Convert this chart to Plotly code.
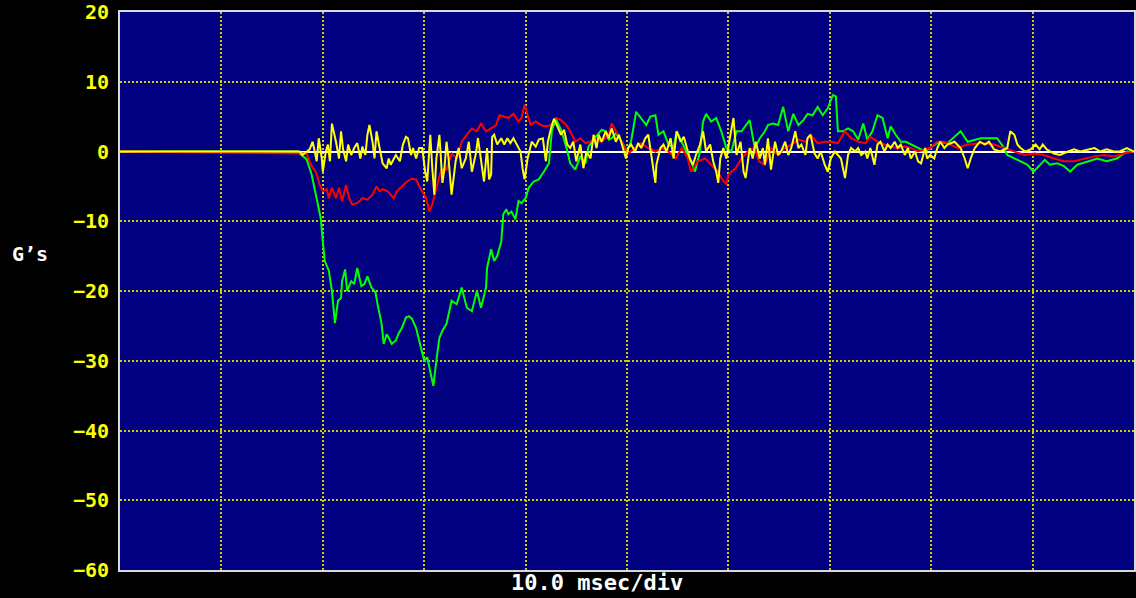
import plotly.graph_objects as go

# ---- data (time in ms, acceleration in G) ----
green_t = [0, 17.5, 17.7, 18.4, 18.9, 19.2, 19.5, 19.8, 20.0, 20.2, 20.6, 20.9, 21.2, 21.5, 21.8, 21.9,
           22.2, 22.4, 22.8, 23.1, 23.4, 23.8, 24.1, 24.4, 24.8, 25.2, 25.4, 25.8, 26.0, 26.3, 26.5, 26.8,
           27.2, 27.5, 27.8, 28.2, 28.5, 28.8, 29.2, 29.5, 29.8, 30.0, 30.3, 30.7, 30.9, 31.2, 31.5, 31.8,
           32.2, 32.7, 33.2, 33.7, 34.2, 34.7, 35.2, 35.6, 36.1, 36.2, 36.6, 36.9, 37.2, 37.6, 37.8, 38.1,
           38.3, 38.6, 39.0, 39.3, 39.6, 40.0, 40.3, 40.8, 41.3, 41.8, 42.3, 42.6, 43.0, 43.5, 44.0, 44.4,
           44.9, 45.4, 45.9, 46.2, 46.9, 47.5, 47.9, 48.2, 48.5, 48.9, 49.5, 50.0, 50.4, 50.9, 51.4, 51.9,
           52.3, 52.8, 53.1, 53.6, 54.1, 54.6, 54.9, 55.4, 55.9, 56.3, 56.7, 57.2, 57.5, 57.8, 58.3, 58.8,
           59.3, 59.8, 60.3, 60.8, 61.3, 61.8, 62.1, 62.6, 63.1, 63.6, 63.9, 64.4, 64.9, 65.4, 65.9, 66.4,
           66.9, 67.4, 67.8, 68.3, 68.8, 69.3, 69.8, 70.3, 70.6, 70.8, 71.3, 71.8, 72.3, 72.8, 73.3, 73.7,
           74.2, 74.7, 75.2, 75.7, 76.0, 76.5, 77.0, 77.5, 78.0, 78.7, 79.4, 79.9, 80.8, 81.6, 82.9, 83.6,
           84.9, 86.5, 87.2, 87.5, 88.2, 88.8, 89.5, 90.1, 90.7, 91.2, 91.7, 92.4, 93.1, 93.7, 94.4, 95.4,
           96.4, 97.3, 98.3, 99.3, 100]
green_g = [0, 0, -0.3, -1.1, -3.3, -5.3, -7.1, -9.6, -12.9, -15.7, -17.1, -20, -24.6, -21.4, -21, -18.6,
           -16.9, -20, -18.6, -19, -16.7, -19.3, -19, -17.9, -19.5, -20.2, -21.9, -24.7, -27.6, -26.2, -26.7, -27.6,
           -27.1, -26, -25.3, -23.8, -23.6, -24, -25.3, -27.1, -29, -30, -29.5, -32.4, -33.6, -30, -26.7, -25.7,
           -24.7, -21.4, -21.9, -19.5, -22.4, -22.9, -20, -22.4, -19.5, -16.7, -14, -15.7, -15, -12.9, -9, -8.3,
           -9, -8.6, -9.7, -7.1, -7.4, -6.7, -5.2, -4.3, -4, -2.9, -1.7, 3.1, 4.6, 3.1, 0.7, -1.7,
           -2.6, -0.7, -1.7, 0.7, 2.1, 3.1, 2.9, 1.7, 1.9, 2.6, 1.4, 0, 1.4, 5.7, 4.8, 3.8,
           5, 5.2, 2.4, 2.9, 1, 0.5, 2.9, 1.4, 0, -1.4, -2.9, 0, 4.3, 5.4, 4.3, 4.8,
           2.9, 0.5, 0, 2.9, 2.9, 3.8, 4.5, 0.5, 1.9, 2.9, 3.8, 4, 3.8, 6.4, 2.9, 5.4,
           3.8, 4.5, 5.4, 5.2, 6.4, 5.2, 6.2, 8.1, 7.9, 2.9, 2.9, 3.3, 2.9, 1.7, 4, 1.7,
           2.9, 5.2, 4.8, 1.9, 3.6, 2.4, 1.4, 1.4, 1, 0.5, 0, 0.5, 1.4, 1.2, 2.9, 1.4,
           1.9, 1.9, 0.5, -0.5, -1, -1.4, -1.9, -2.9, -1.9, -1.2, -1.9, -1.7, -2.1, -2.9, -1.9, -1.4,
           -1, -1.4, -1, 0, 0]

red_t = [0, 18.4, 18.9, 19.3, 19.5, 19.7, 20.0, 20.4, 20.6, 20.9, 21.3, 21.6, 21.9, 22.3, 22.6, 22.9,
         23.4, 23.9, 24.4, 24.9, 25.3, 25.6, 25.9, 26.4, 26.7, 27.0, 27.3, 27.8, 28.3, 28.8, 29.2, 29.5,
         29.8, 30.2, 30.5, 30.8, 31.2, 31.7, 32.2, 32.7, 33.2, 33.7, 34.2, 34.7, 35.2, 35.6, 36.1, 36.6,
         37.1, 37.4, 37.9, 38.3, 38.8, 39.3, 39.6, 39.9, 40.1, 40.5, 41.0, 41.5, 42.0, 42.5, 43.0, 43.5,
         44.0, 44.4, 44.9, 45.4, 45.9, 46.4, 47.0, 47.5, 48.2, 48.5, 48.9, 49.5, 50.1, 50.8, 51.4, 52.1,
         52.8, 53.4, 54.1, 54.8, 55.4, 56.0, 56.3, 57.0, 57.7, 58.3, 59.0, 59.3, 59.8, 60.0, 60.7, 61.3,
         61.9, 62.6, 63.0, 63.6, 64.2, 64.9, 65.6, 66.2, 66.9, 67.6, 68.1, 68.8, 69.5, 70.1, 70.8, 71.5,
         72.1, 72.8, 73.5, 74.0, 74.7, 75.4, 76.0, 76.7, 77.4, 78.0, 78.7, 79.4, 79.9, 80.6, 81.3, 81.9,
         82.6, 83.6, 84.9, 86.2, 87.2, 88.2, 89.2, 90.2, 91.1, 92.1, 93.1, 94.1, 95.1, 96.1, 97.1, 98.0,
         99.0, 100]
red_g = [0, -0.3, -2.1, -2.9, -3.8, -4.8, -5.7, -5.4, -6.7, -5.2, -6.7, -5.2, -7.1, -4.8, -6.7, -7.6,
         -7.4, -6.7, -6.9, -6.2, -5, -5.7, -5.4, -5.7, -6.2, -6.7, -5.7, -5, -4.3, -3.9, -4, -5,
         -5.7, -6.7, -8.6, -7.6, -5.2, -2.6, -2.6, -0.3, -1, 1.4, 2.4, 3.3, 2.9, 4, 2.9, 3.3,
         3.8, 5.2, 5, 4.8, 5.4, 4.3, 4.8, 6.7, 5.7, 3.8, 4.3, 3.8, 3.6, 3.8, 4.8, 4.5,
         3.8, 2.9, 1.4, 1.9, 1.2, 1.4, 1.7, 1.4, 2.4, 4, 2.9, 1.2, -0.3, 0.5, 1.2, 0.5,
         0, 0.5, 0, -1, 0.5, -1, -2.9, -1.4, -1, -1.9, -2.9, -3.8, -4.7, -3.3, -2.4, -1,
         0, 0.5, -1.4, -1.9, 0.5, -0.5, 0.5, 1, 1.7, 1.4, 2.4, 1.2, 1.4, 1.4, 1.2, 2.9,
         1.9, 1.4, 1.2, 2.1, 1.4, 1, 0.7, 0.5, 0.7, 0.5, 0, 0.3, 0.5, 1.4, 1.4, 1,
         0.5, 1, 1.2, 1, 0.5, 0, -0.5, -0.3, -0.5, -1, -1.4, -1.4, -1, -0.7, -0.5, -0.7,
         -0.3, 0]

yellow_t = [0, 17.7, 18.0, 18.7, 19.0, 19.4, 19.6, 19.9, 20.0, 20.3, 20.5, 20.7, 20.9, 21.1, 21.3, 21.6,
            21.8, 22.0, 22.3, 22.5, 22.8, 23.1, 23.4, 23.7, 23.9, 24.2, 24.4, 24.6, 24.9, 25.1, 25.3, 25.6,
            25.9, 26.3, 26.5, 26.7, 27.0, 27.2, 27.6, 27.9, 28.2, 28.4, 28.7, 28.9, 29.2, 29.5, 29.8, 30.1,
            30.3, 30.6, 30.8, 31.0, 31.2, 31.5, 31.8, 32.0, 32.2, 32.4, 32.7, 33.1, 33.4, 33.7, 34.1, 34.4,
            34.7, 35.1, 35.3, 35.6, 35.9, 36.2, 36.4, 36.6, 36.7, 36.9, 37.2, 37.6, 37.9, 38.2, 38.5, 38.8,
            39.1, 39.5, 39.7, 39.9, 40.2, 40.6, 41.0, 41.3, 41.7, 42.0, 42.2, 42.5, 42.8, 43.1, 43.5, 43.8,
            44.1, 44.4, 44.7, 45.0, 45.4, 45.7, 46.0, 46.4, 46.7, 47.0, 47.2, 47.5, 47.9, 48.2, 48.5, 48.9,
            49.2, 49.5, 49.9, 50.1, 50.4, 50.8, 51.1, 51.4, 51.8, 52.1, 52.4, 52.8, 52.9, 53.3, 53.6, 53.9,
            54.3, 54.6, 54.9, 55.3, 55.6, 55.9, 56.2, 56.5, 56.8, 57.2, 57.5, 57.8, 58.2, 58.5, 58.8, 59.0,
            59.2, 59.5, 59.8, 60.2, 60.5, 60.8, 61.2, 61.5, 61.7, 62.1, 62.4, 62.7, 63.1, 63.4, 63.6, 63.9,
            64.2, 64.6, 64.9, 65.2, 65.6, 65.9, 66.2, 66.6, 66.9, 67.2, 67.6, 67.8, 68.1, 68.5, 68.8, 69.1,
            69.5, 69.8, 70.1, 70.5, 70.8, 71.1, 71.5, 71.8, 72.1, 72.5, 72.8, 73.1, 73.5, 73.7, 74.0, 74.4,
            74.7, 75.0, 75.4, 75.7, 76.0, 76.4, 76.7, 77.0, 77.4, 77.7, 78.0, 78.4, 78.7, 79.0, 79.4, 79.6,
            79.9, 80.3, 80.6, 80.9, 81.3, 81.6, 82.3, 82.9, 83.3, 83.6, 83.9, 84.3, 84.8, 85.3, 85.7, 86.2,
            86.8, 87.5, 87.8, 88.2, 88.5, 88.8, 89.3, 89.8, 90.3, 90.7, 91.0, 91.4, 92.1, 92.7, 93.5, 94.1,
            94.7, 95.4, 96.1, 96.7, 97.3, 98.0, 98.6, 99.3, 100]
yellow_g = [0, 0, -0.5, 0.3, 1.4, -1.4, 1.9, -1, -2.9, 0, 1, -1.4, 4, 2.9, 1.4, -1,
            2.9, 0.3, -1.4, 1, -0.5, 0.5, 1.2, -1, 0.7, -0.5, 2.4, 3.8, 1.4, -1, 2.9, 0.5,
            -1.7, -2.4, -1, -1.9, -1, -0.5, -1.4, 1, 2.1, 1.9, -0.5, 0.5, -1, 0.5, 0.5, -2.9,
            -4.3, 2.4, -2.4, -6.2, -1, 2.4, -4.5, -2.4, 1.4, -1, -6.2, -1.4, 0.5, -2.4, -1, 1.4,
            -2.9, -0.3, 1.9, -1, -4.3, 0.5, -4, -3.3, 2.1, 2.4, 1, 1.9, 1, 1.9, 1.2, 1.9,
            1, 0, -2.4, -4, -1, 1.4, 0.7, 1.7, 1.9, -1.4, 1.4, 3.3, 4.7, 3.8, 2.4, 3.1,
            1, 0.5, 1.4, -1.4, 1, -2.4, 0, -1, 2.4, 0.5, 2.4, 1.4, 2.9, 1.9, 3.3, 1.4,
            2.4, 1, -1, 0.5, 1, 0, 1.2, 0.5, 1.9, 2.4, -0.5, -4.5, -1.9, 0.5, 1, 0,
            1.9, -1, 2.9, 1.4, 2.1, 0.5, -1, -1.9, -0.5, 1, 2.9, 0, 1, -1.4, -2.9, -4.5,
            -1, 0.5, -1, 2.4, 4.8, -0.5, 1.4, -2.9, -3.8, 0.5, -1, 1.4, -1, 0.5, -1.9, 1.9,
            -2.6, 1.4, -0.5, 0, 1.4, -0.5, 0.5, 2.9, 0.5, 1, -0.5, 1.9, 2.4, -0.3, -1, 0,
            -1.9, -2.9, -1, 0, -0.5, -1, -3.8, -0.5, 0.5, 0, 0.5, -0.5, 0, -1, 0.5, -1.9,
            1, 1.4, 0, 1, 0.5, 1.4, 0.5, 1, -0.5, 0.5, -1, 0, -1.4, -1.7, 0.5, -1,
            -0.5, -1, 0.5, 1.4, 0.5, 1, 1.4, 0.5, -1, -2.4, -1, 0.5, 1.4, 1, 1.4, 0.3,
            0, 0.5, 2.9, 2.4, 1, 0.5, 0, 0.3, 1, 0.3, 1, 0.3, -0.3, -0.5, 0, 0.3,
            0, 0.3, 0.5, 0, 0.3, 0, 0, 0.5, 0]

y_ticks = [20, 10, 0, -10, -20, -30, -40, -50, -60]
x_ticks = [0, 10, 20, 30, 40, 50, 60, 70, 80, 90, 100]

FONT = "DejaVu Sans Mono"

fig = go.Figure()
for t, g, col in [(green_t, green_g, "#00ff00"),
                  (red_t, red_g, "#ff0000"),
                  (yellow_t, yellow_g, "#ffff00")]:
    fig.add_trace(go.Scatter(x=t, y=g, mode="lines",
                             line=dict(color=col, width=2),
                             hoverinfo="skip", showlegend=False))

grid = dict(showgrid=True, gridcolor="#d0d000", gridwidth=2, griddash="2px,2px")

fig.update_layout(
    width=1136, height=598,
    margin=dict(l=120, r=0, t=10, b=28),
    paper_bgcolor="#000000",
    plot_bgcolor="#000080",
    showlegend=False,
    xaxis=dict(range=[0, 100], tickvals=x_ticks, showticklabels=False, ticks="",
               showline=True, mirror=True, linecolor="#d8d8d8", linewidth=2,
               zeroline=False, **grid),
    yaxis=dict(range=[-60, 20], tickvals=y_ticks, ticks="",
               tickfont=dict(family=FONT, size=20, color="#ffff00", weight="bold"),
               ticklabelstandoff=5, ticklabeloverflow="allow",
               showline=True, mirror=True, linecolor="#d8d8d8", linewidth=2,
               zeroline=True, zerolinecolor="#ffffff", zerolinewidth=2, **grid),
    annotations=[
        dict(text="G\u2019s", xref="paper", yref="paper", x=(10 - 120) / 1016, y=(570 - 253) / 560,
             xanchor="left", yanchor="middle", showarrow=False,
             font=dict(family=FONT, size=20, color="#ffffff", weight="bold")),
        dict(text="10.0 msec/div", xref="paper", yref="paper", x=(598 - 120) / 1016, y=(570 - 583) / 560,
             xanchor="center", yanchor="middle", showarrow=False,
             font=dict(family=FONT, size=22, color="#ffffff", weight="bold")),
    ],
)

fig.write_html(
    "out.html",
    config={"displayModeBar": False},
    post_script="document.body.style.margin='0';document.body.style.background='#000';"
                "document.documentElement.style.background='#000';"
                "document.body.style.overflow='hidden';",
)
